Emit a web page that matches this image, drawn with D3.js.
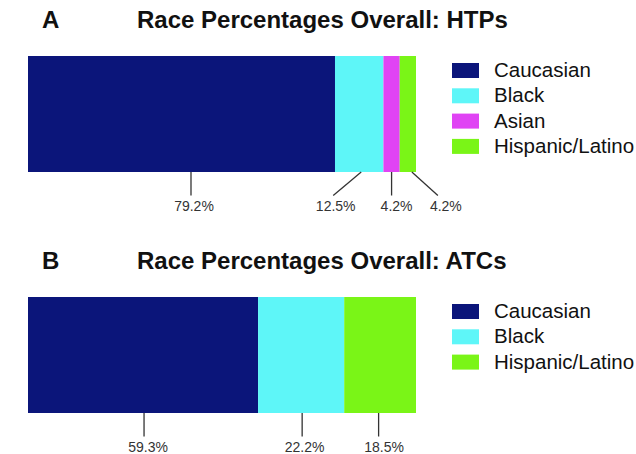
<!DOCTYPE html>
<html>
<head>
<meta charset="utf-8">
<script src="https://cdn.jsdelivr.net/npm/d3@7"></script>
<style>
  html, body { margin: 0; padding: 0; background: #ffffff; }
  svg { display: block; }
  text { font-family: "Liberation Sans", Arial, sans-serif; }
</style>
</head>
<body>
<div id="chart"></div>
<script>
// Panel A: HTPs
const htpCategories = ["Caucasian", "Black", "Asian", "Hispanic/Latino"];
const htpValues = [79.2, 12.5, 4.2, 4.2];
const htpLabels = ["79.2%", "12.5%", "4.2%", "4.2%"];

// Panel B: ATCs
const atcCategories = ["Caucasian", "Black", "Hispanic/Latino"];
const atcValues = [59.3, 22.2, 18.5];
const atcLabels = ["59.3%", "22.2%", "18.5%"];

const raceColors = {
  "Caucasian": "#0b157a",
  "Black": "#5ef6f8",
  "Asian": "#e043f4",
  "Hispanic/Latino": "#7af517"
};

const W = 636, H = 454;
const svg = d3.select("#chart").append("svg")
  .attr("width", W).attr("height", H);

// leader layout per segment, relative to segment centre:
// [start offset at bar edge, end offset, label offset]
const htpLeaders = [[9.5, 9.5, 12.5], [2, -26, -23.5], [0, 0, 5], [4, 30, 38]];
const atcLeaders = [[1, 1, 5], [1, 1, 3.5], [-1.5, -1.5, 4]];

function drawPanel(opts) {
  const { letter, title, top, categories, values, labels, leaders } = opts;
  const g = svg.append("g").attr("transform", `translate(0,${top})`);

  g.append("text").attr("x", 42).attr("y", 28)
    .attr("font-size", 24).attr("font-weight", "bold").attr("fill", "#111")
    .text(letter);
  g.append("text").attr("x", 137).attr("y", 28)
    .attr("font-size", 24).attr("font-weight", "bold").attr("fill", "#111")
    .text(title);

  const x = d3.scaleLinear().domain([0, d3.sum(values)]).range([28, 416]);
  const barTop = 56, barH = 116;

  let acc = 0;
  const segs = values.map((v, i) => {
    const s = { cat: categories[i], v, x0: acc, x1: acc + v, label: labels[i], ld: leaders[i] };
    acc += v;
    return s;
  });
  const mid = d => (x(d.x0) + x(d.x1)) / 2;

  g.selectAll("rect.seg").data(segs).join("rect")
    .attr("class", "seg")
    .attr("x", d => x(d.x0))
    .attr("y", barTop)
    .attr("width", d => x(d.x1) - x(d.x0))
    .attr("height", barH)
    .attr("fill", d => raceColors[d.cat]);

  const lineTop = barTop + barH;
  const lineBottom = lineTop + 23.5;
  g.selectAll("line.leader").data(segs).join("line")
    .attr("class", "leader")
    .attr("x1", d => mid(d) + d.ld[0])
    .attr("y1", lineTop)
    .attr("x2", d => mid(d) + d.ld[1])
    .attr("y2", lineBottom)
    .attr("stroke", "#333").attr("stroke-width", 1.3);

  g.selectAll("text.pct").data(segs).join("text")
    .attr("class", "pct")
    .attr("x", d => mid(d) + d.ld[2])
    .attr("y", lineBottom + 15.5)
    .attr("text-anchor", "middle")
    .attr("font-size", 14).attr("fill", "#333")
    .text(d => d.label);

  const leg = g.append("g").attr("transform", "translate(452,0)");
  const items = leg.selectAll("g").data(categories).join("g")
    .attr("transform", (d, i) => `translate(0,${70 + i * 25.3})`);
  items.append("rect").attr("x", 0).attr("y", -7).attr("width", 27).attr("height", 15)
    .attr("fill", d => raceColors[d]);
  items.append("text").attr("x", 42).attr("y", 7)
    .attr("font-size", 20.5).attr("fill", "#111")
    .text(d => d);
}

drawPanel({ letter: "A", title: "Race Percentages Overall: HTPs", top: 0,
  categories: htpCategories, values: htpValues, labels: htpLabels, leaders: htpLeaders });
drawPanel({ letter: "B", title: "Race Percentages Overall: ATCs", top: 241,
  categories: atcCategories, values: atcValues, labels: atcLabels, leaders: atcLeaders });
</script>
</body>
</html>
